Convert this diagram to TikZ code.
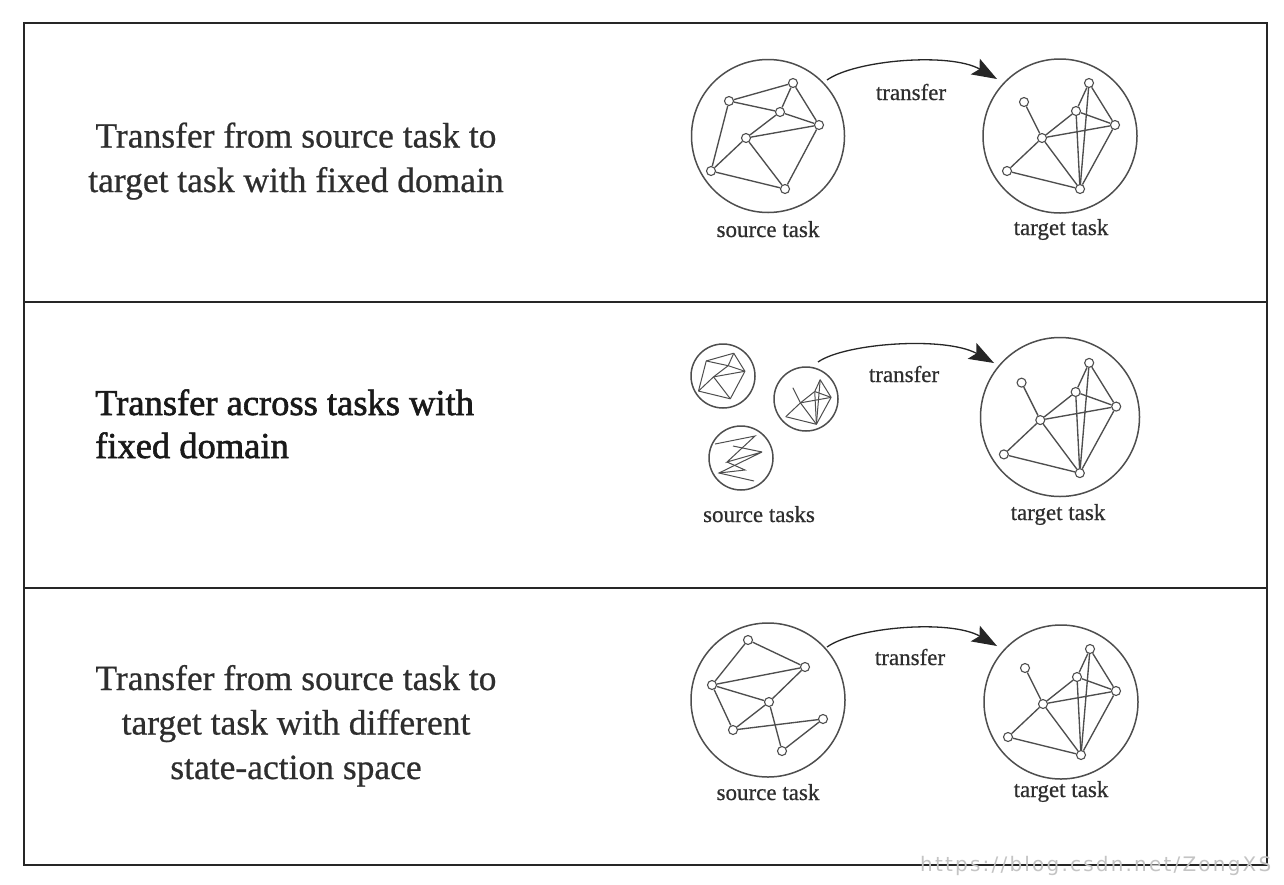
\documentclass[tikz,border=0pt]{standalone}
\usepackage{fontspec}
\setmainfont{Liberation Serif}
\newfontfamily\lighttext[FakeBold=0.6]{Liberation Serif}
\newfontfamily\heavytext[FakeBold=1.6]{Liberation Serif}
\newfontfamily\wmfont[LetterSpace=11]{DejaVu Sans}
\usetikzlibrary{arrows.meta}
\definecolor{linegray}{HTML}{4E4E4E}
\definecolor{txt}{HTML}{2E2E2E}
\definecolor{wmgray}{HTML}{C4C4C4}

\tikzset{
  vert/.style={circle, draw=linegray, fill=white, line width=1.1pt, inner sep=0pt, minimum size=9pt},
  gedge/.style={draw=linegray, line width=1.35pt},
  bigcirc/.style={circle, draw=linegray, line width=1.5pt, inner sep=0pt},
  maintext/.style={font=\lighttext\fontsize{35.5}{44.5}\selectfont, text=txt, inner sep=0pt},
  labeltext/.style={font=\lighttext\fontsize{23}{28}\selectfont, text=txt, inner sep=0pt, anchor=base},
  transferarrow/.style={draw=black!85, line width=1.3pt, -{Stealth[length=25pt,width=18pt,inset=5pt]}},
  frameline/.style={draw=black!85, line width=2.8pt},
  srcgraph/.pic={
    \node[vert] (-a) at (-39,-35) {};
    \node[vert] (-b) at (25,-53) {};
    \node[vert] (-c) at (12,-24) {};
    \node[vert] (-d) at (51,-11) {};
    \node[vert] (-e) at (-22,2) {};
    \node[vert] (-f) at (-57,35) {};
    \node[vert] (-g) at (17,53) {};
    \draw[gedge] (-a) -- (-b);
    \draw[gedge] (-a) -- (-c);
    \draw[gedge] (-a) -- (-f);
    \draw[gedge] (-b) -- (-c);
    \draw[gedge] (-b) -- (-d);
    \draw[gedge] (-c) -- (-d);
    \draw[gedge] (-c) -- (-e);
    \draw[gedge] (-e) -- (-d);
    \draw[gedge] (-e) -- (-f);
    \draw[gedge] (-e) -- (-g);
    \draw[gedge] (-f) -- (-g);
    \draw[gedge] (-d) -- (-g);
  },
  tgtgraph/.pic={
    \node[vert] (-p) at (-36,-34) {};
    \node[vert] (-q) at (29,-53) {};
    \node[vert] (-r) at (16,-25) {};
    \node[vert] (-s) at (55,-11) {};
    \node[vert] (-t) at (-18,2) {};
    \node[vert] (-u) at (-53,35) {};
    \node[vert] (-v) at (20,53) {};
    \draw[gedge] (-p) -- (-t);
    \draw[gedge] (-u) -- (-t);
    \draw[gedge] (-t) -- (-r);
    \draw[gedge] (-r) -- (-q);
    \draw[gedge] (-q) -- (-s);
    \draw[gedge] (-r) -- (-s);
    \draw[gedge] (-t) -- (-s);
    \draw[gedge] (-q) -- (-v);
    \draw[gedge] (-r) -- (-v);
    \draw[gedge] (-s) -- (-v);
    \draw[gedge] (-t) -- (-v);
    \draw[gedge] (-u) -- (-v);
  },
  srcgraphthree/.pic={
    \node[vert] (-a) at (-20,-60) {};
    \node[vert] (-b) at (37,-33) {};
    \node[vert] (-c) at (-56,-15) {};
    \node[vert] (-d) at (1,2) {};
    \node[vert] (-e) at (-35,30) {};
    \node[vert] (-f) at (55,19) {};
    \node[vert] (-g) at (14,51) {};
    \draw[gedge] (-a) -- (-b);
    \draw[gedge] (-a) -- (-c);
    \draw[gedge] (-c) -- (-b);
    \draw[gedge] (-c) -- (-d);
    \draw[gedge] (-b) -- (-d);
    \draw[gedge] (-c) -- (-e);
    \draw[gedge] (-d) -- (-e);
    \draw[gedge] (-d) -- (-g);
    \draw[gedge] (-e) -- (-f);
    \draw[gedge] (-f) -- (-g);
  },
}

\begin{document}
\begin{tikzpicture}[x=1pt, y=-1pt]
  \useasboundingbox (0,0) rectangle (1284,884);
  \fill[white] (0,0) rectangle (1284,884);

  % frame
  \draw[frameline] (24,23) rectangle (1267,865);
  \draw[frameline] (24,302) -- (1267,302);
  \draw[frameline] (24,588) -- (1267,588);

  % ---------- row 1 ----------
  \node[maintext, align=center, anchor=base] (t1) at (296,192)
    {Transfer from source task to\\target task with fixed domain};
  \node[bigcirc, minimum size=153pt] (s1c) at (768,136) {};
  \pic (s1) at (768,136) {srcgraph};
  \node[bigcirc, minimum size=154pt] (g1c) at (1060,136) {};
  \pic (g1) at (1060,136) {tgtgraph};
  \node[labeltext] (tr1) at (911,100) {transfer};
  \node[labeltext] (sl1) at (768,237) {source task};
  \node[labeltext] (gl1) at (1061,235) {target task};
  \coordinate (a1s) at (827,80);
  \coordinate (a1e) at (997,79);
  \draw[transferarrow] (a1s) .. controls (855,60) and (950,52) .. (a1e);

  % ---------- row 2 ----------
  \node[maintext, font=\heavytext\fontsize{36.5}{43}\selectfont, text=black!90, align=left, anchor=base west] (t2) at (95,458)
    {Transfer across tasks with\\fixed domain};
  \node[bigcirc, minimum size=64pt] (m1c) at (723,376) {};
  \node[bigcirc, minimum size=64pt] (m2c) at (806,399) {};
  \node[bigcirc, minimum size=64pt] (m3c) at (741,458) {};
  \begin{scope}[vert/.style={coordinate}, gedge/.style={draw=linegray, line width=1pt}]
    \pic[scale=0.43] (m1) at (723,376) {srcgraph};
    \pic[scale=0.42] (m2) at (808,402) {tgtgraph};
  \end{scope}
  \coordinate (z1) at (715,444);
  \coordinate (z2) at (755,436);
  \coordinate (z3) at (727,462);
  \coordinate (z4) at (762,452);
  \coordinate (z5) at (719,473);
  \coordinate (z6) at (754,481);
  \coordinate (z7) at (733,446);
  \coordinate (z8) at (745,470);
  \draw[draw=linegray, line width=1pt] (z1) -- (z2) -- (z3) -- (z4) -- (z5) -- (z6);
  \draw[draw=linegray, line width=1pt] (z7) -- (z4);
  \draw[draw=linegray, line width=1pt] (z3) -- (z8) -- (z5);
  \node[bigcirc, minimum size=159pt] (g2c) at (1060,417) {};
  \pic[scale=1.04] (g2) at (1059,418) {tgtgraph};
  \node[labeltext] (tr2) at (904,382) {transfer};
  \node[labeltext] (sl2) at (759,522) {source tasks};
  \node[labeltext] (gl2) at (1058,520) {target task};
  \coordinate (a2s) at (818,362);
  \coordinate (a2e) at (994,363);
  \draw[transferarrow] (a2s) .. controls (845,343) and (945,336) .. (a2e);

  % ---------- row 3 ----------
  \node[maintext, align=center, anchor=base] (t3) at (296,779)
    {Transfer from source task to\\target task with different\\state-action space};
  \node[bigcirc, minimum size=154pt] (s3c) at (768,700) {};
  \pic (s3) at (768,700) {srcgraphthree};
  \node[bigcirc, minimum size=154pt] (g3c) at (1061,702) {};
  \pic (g3) at (1061,702) {tgtgraph};
  \node[labeltext] (tr3) at (910,665) {transfer};
  \node[labeltext] (sl3) at (768,800) {source task};
  \node[labeltext] (gl3) at (1061,797) {target task};
  \coordinate (a3s) at (827,647);
  \coordinate (a3e) at (997,646);
  \draw[transferarrow] (a3s) .. controls (855,627) and (950,619) .. (a3e);

  % watermark
  \node[anchor=base west, inner sep=0pt, text=wmgray, font=\wmfont\fontsize{20}{24}\selectfont] (wm) at (920,871)
    {https://blog.csdn.net/ZongXS};
\end{tikzpicture}
\end{document}
